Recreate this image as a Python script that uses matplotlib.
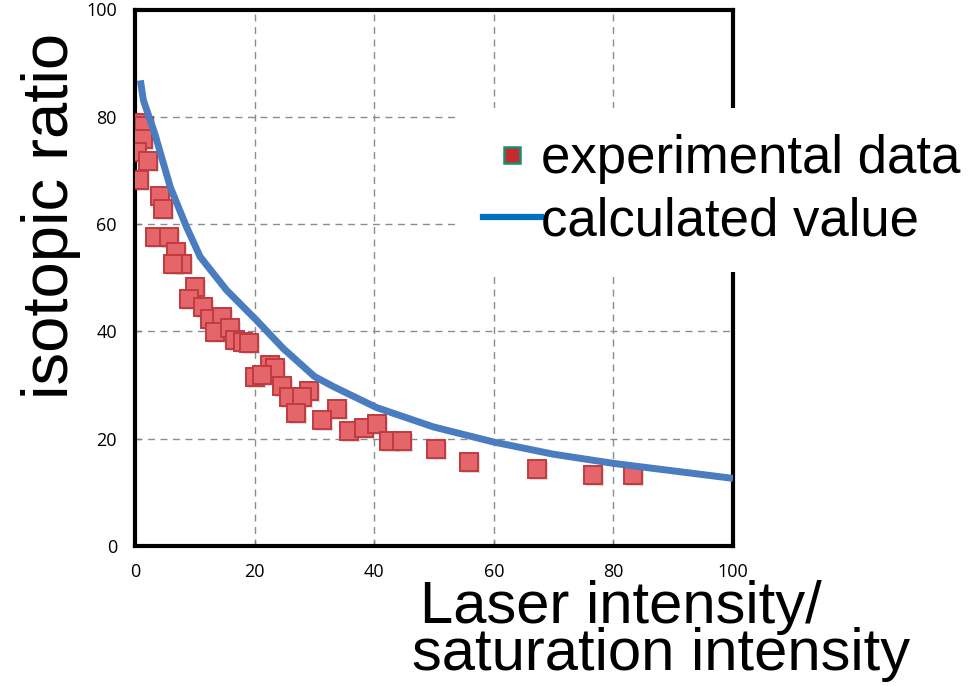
import matplotlib.pyplot as plt
import matplotlib.transforms as mtransforms
from matplotlib.lines import Line2D

# experimental points (laser intensity / saturation intensity, isotopic ratio)
exp_x = [0.5, 1.5, 1.3, 0.4, 2.2, 0.6, 4.1, 4.6, 3.3, 5.7, 6.9, 7.8, 6.4,
         10.1, 9.1, 11.3, 12.5, 14.6, 13.4, 15.9, 16.7, 18.1, 19.1, 22.5,
         23.4, 20.1, 21.3, 24.6, 29.1, 25.8, 28.0, 27.0, 33.7, 31.3, 35.8,
         38.3, 40.4, 42.5, 44.7, 50.4, 55.9, 67.2, 76.6, 83.3]
exp_y = [78.8, 78.3, 75.8, 73.4, 71.8, 68.2, 65.2, 62.9, 57.6, 57.6, 54.8,
         52.5, 52.5, 48.2, 46.1, 44.5, 42.4, 42.7, 39.9, 40.6, 38.4, 38.0,
         37.8, 33.7, 33.1, 31.5, 31.8, 29.8, 28.9, 27.8, 27.8, 24.7, 25.5,
         23.5, 21.4, 22.0, 22.7, 19.6, 19.6, 18.1, 15.6, 14.3, 13.2, 13.2]

# calculated curve
calc_x = [0.9, 1.4, 3.3, 5.9, 8.6, 10.9, 15.3, 20.3, 24.8, 30.0, 33.2,
          40.4, 49.9, 59.9, 70.0, 80.0, 100.0]
calc_y = [86.8, 83.1, 76.9, 66.9, 59.5, 53.9, 47.7, 42.1, 36.8, 31.6, 29.7,
          25.8, 22.2, 19.4, 17.1, 15.4, 12.6]

ticks = [0, 20, 40, 60, 80, 100]
tick_labels = ['0', '20', '40', '60', '80', '100']

W, H = 980, 686
fig = plt.figure(figsize=(W / 100, H / 100), dpi=100)
ax = fig.add_axes([135 / W, 1 - 546 / H, (733 - 135) / W, (546 - 9.5) / H])

ax.set_xlim(0, 100)
ax.set_ylim(0, 100)
ax.set_xticks(ticks)
ax.set_yticks(ticks)
ax.set_xticklabels(tick_labels, family=['Open Sans', 'DejaVu Sans'], fontsize=13)
ax.set_yticklabels(tick_labels, family=['Open Sans', 'DejaVu Sans'], fontsize=13)
ax.tick_params(direction='in', length=4, width=1, color='#808080')
ax.tick_params(axis='x', pad=12)
ax.tick_params(axis='y', pad=13)

ax.grid(True, color='#8c8c8c', linewidth=1.0, linestyle=(0, (5, 4)))
ax.set_axisbelow(True)
for s in ax.spines.values():
    s.set_linewidth(3)
    s.set_color('black')

# marker shadows
shadow = mtransforms.offset_copy(ax.transData, fig=fig, x=2, y=-2, units='dots')
ax.plot(exp_x, exp_y, 's', ms=13, color='#9a9a9a', alpha=0.35, mew=0,
        transform=shadow, zorder=2.5)
ax.plot(exp_x, exp_y, 's', ms=13, mfc='#e4656a', mec='#c13a40', mew=1.4,
        zorder=3)
ax.plot(calc_x, calc_y, '-', color='#4a7cc0', lw=5, solid_capstyle='butt',
        zorder=4)

handles = [
    Line2D([], [], ls='none', marker='s', ms=11, mfc='#c42a30', mec='#1c8c6c', mew=1.8),
    Line2D([], [], color='#0070c0', lw=4.5),
]
leg = ax.legend(handles, ['experimental data', 'calculated value'],
                loc='upper left', bbox_to_anchor=(457 / W, 1 - 108 / H),
                bbox_transform=fig.transFigure, borderaxespad=0,
                prop={'family': ['Liberation Sans', 'DejaVu Sans'], 'size': 38},
                frameon=True, fancybox=False, framealpha=1,
                handlelength=1.1, handletextpad=0.0, labelspacing=0.22,
                borderpad=0.5)
leg.get_frame().set_edgecolor('none')
leg.get_frame().set_facecolor('white')
leg.set_zorder(10)

fig.text(68 / W, 1 - 216 / H, 'isotopic ratio', rotation=90,
         rotation_mode='anchor', ha='center', va='baseline', fontsize=47,
         family=['Liberation Sans', 'DejaVu Sans'])
fig.text(420 / W, 1 - 623 / H, 'Laser intensity/', ha='left', va='baseline',
         fontsize=43, family=['Liberation Sans', 'DejaVu Sans'])
fig.text(412 / W, 1 - 670 / H, 'saturation intensity', ha='left', va='baseline',
         fontsize=43, family=['Liberation Sans', 'DejaVu Sans'])

fig.savefig('out.png', dpi=100)
